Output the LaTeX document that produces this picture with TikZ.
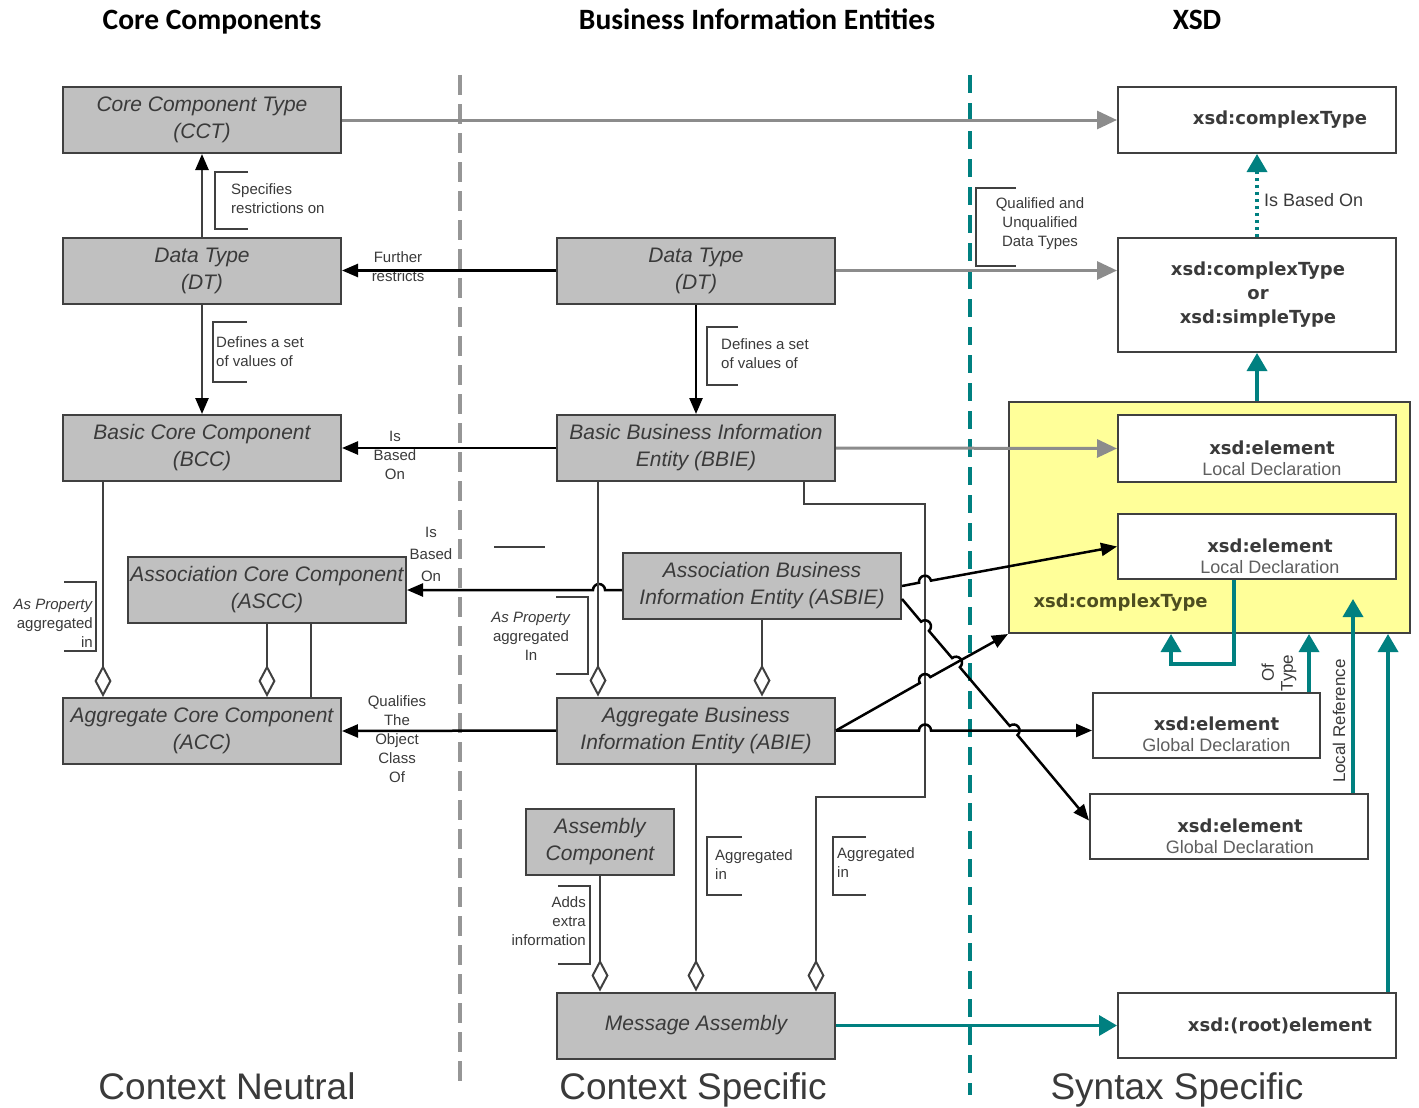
\documentclass[tikz,border=0pt]{standalone}
\usepackage{fontspec}
\setmainfont{Liberation Sans}
\newfontfamily\titlefont{Carlito}
\newfontfamily\xsdfont{DejaVu Sans}
\usepackage{tikz}
\usetikzlibrary{arrows.meta,calc,positioning}
\definecolor{boxgray}{RGB}{192,192,192}
\definecolor{edgegray}{RGB}{64,64,64}
\definecolor{txtgray}{RGB}{58,58,58}
\definecolor{declgray}{RGB}{95,95,95}
\definecolor{lightline}{RGB}{140,140,140}
\definecolor{sepline}{RGB}{150,150,150}
\definecolor{tealline}{RGB}{0,128,128}
\definecolor{paleyellow}{RGB}{255,255,153}
\definecolor{olivetxt}{RGB}{78,78,32}
\newcommand{\declfont}{\normalfont\fontsize{18}{21}\selectfont\color{declgray}}

\tikzset{
  coltitle/.style={font=\titlefont\bfseries\fontsize{29.5}{32}\selectfont, anchor=base},
  ctxlabel/.style={font=\fontsize{37}{40}\selectfont, text=txtgray, anchor=base},
  ccbox/.style={draw=edgegray, line width=2pt, fill=boxgray, minimum width=278pt, minimum height=66pt,
    inner sep=1pt, align=center, font=\fontsize{21}{27}\selectfont\itshape, text=txtgray},
  xsdbox/.style={draw=edgegray, line width=2pt, fill=white, minimum width=278pt, minimum height=66pt},
  xsdlbl/.style={font=\xsdfont\bfseries\fontsize{18}{24}\selectfont, text=txtgray, align=center},
  note/.style={font=\fontsize{15}{19}\selectfont, text=txtgray, inner sep=0pt},
  bracket/.style={draw=edgegray, line width=1.5pt},
  link/.style={draw=black, line width=2.5pt, -{Triangle[length=16pt,width=13pt,color=black]}},
  greylink/.style={draw=lightline, line width=3pt, -{Triangle[length=20pt,width=18pt]}},
  teallink/.style={draw=tealline, line width=3.5pt, -{Triangle[length=18pt,width=20pt]}},
  aggr/.style={draw=edgegray, line width=2pt, -{Diamond[length=32pt,width=17pt,fill=white]}},
}

\begin{document}
\begin{tikzpicture}[x=1pt, y=-1pt]
  \useasboundingbox (0,0) rectangle (1419,1108);
  \fill[white] (0,0) rectangle (1419,1108);

  % column titles and context labels
  \foreach \x/\txt in {212/Core Components, 757/Business Information Entities, 1197/XSD} {
      \node[coltitle] (title\x) at (\x,30) {\txt};
    }
  \foreach \x/\txt in {227/Context Neutral, 693/Context Specific, 1177/Syntax Specific} {
      \node[ctxlabel] (ctx\x) at (\x,1099) {\txt};
    }

  % separators
  \draw[sepline, line width=4.5pt, dash pattern=on 20pt off 9pt] (460,75) -- (460,1090);
  \draw[tealline, line width=4.5pt, dash pattern=on 18pt off 10pt] (970,75) -- (970,1095);

  % core components
  \node[ccbox] (cct) at (202,120) {Core Component Type\\(CCT)};
  \node[ccbox] (dtcc) at (202,270.5) {Data Type\\(DT)};
  \node[ccbox] (bcc) at (202,448) {Basic Core Component\\(BCC)};
  \node[ccbox] (ascc) at (267,590) {Association Core Component\\(ASCC)};
  \node[ccbox] (acc) at (202,731) {Aggregate Core Component\\(ACC)};

  % business information entities
  \node[ccbox] (dtbie) at (696,270.5) {Data Type\\(DT)};
  \node[ccbox] (bbie) at (696,448) {Basic Business Information\\Entity (BBIE)};
  \node[ccbox] (asbie) at (762,586) {Association Business\\Information Entity (ASBIE)};
  \node[ccbox] (abie) at (696,730.5) {Aggregate Business\\Information Entity (ABIE)};
  \node[ccbox, minimum width=148pt] (asmcomp) at (600,842) {Assembly\\Component};
  \node[ccbox] (msgasm) at (696,1025.5) {Message Assembly};

  % xsd side
  \node[xsdbox] (xct) at (1257,120) {};
  \node[xsdbox, minimum height=114pt] (xctst) at (1257,295) {};
  \node[draw=edgegray, line width=2pt, fill=paleyellow, minimum width=401pt, minimum height=231pt] (xcomplex) at (1209.5,517.5) {};
  \node[xsdbox, minimum height=67pt] (xloc1) at (1257,448.5) {};
  \node[xsdbox, minimum height=65pt] (xloc2) at (1257,546.5) {};
  \node[xsdbox, minimum width=227pt, minimum height=65pt] (xglob1) at (1206.5,725.5) {};
  \node[xsdbox, minimum height=65pt] (xglob2) at (1229,826.5) {};
  \node[xsdbox, minimum height=65pt] (xroot) at (1257,1025.5) {};

  \node[xsdlbl] (xct-t) at ($(xct)+(23,0)$) {xsd:complexType};
  \node[xsdlbl] (xctst-t) at (1258,295) {xsd:complexType\\or\\xsd:simpleType};
  \node[xsdlbl] (xloc1-t) at ($(xloc1)+(15,10)$) {xsd:element\\[-3pt]{\declfont Local Declaration}};
  \node[xsdlbl] (xloc2-t) at ($(xloc2)+(13,10)$) {xsd:element\\[-3pt]{\declfont Local Declaration}};
  \node[xsdlbl] (xglob1-t) at ($(xglob1)+(10,9)$) {xsd:element\\[-3pt]{\declfont Global Declaration}};
  \node[xsdlbl] (xglob2-t) at ($(xglob2)+(11,10)$) {xsd:element\\[-3pt]{\declfont Global Declaration}};
  \node[xsdlbl] (xroot-t) at ($(xroot)+(23,0)$) {xsd:(root)element};
  \node[xsdlbl, text=olivetxt, anchor=west] (xcomplex-t) at (1030,603) {xsd:complexType};

  % brackets next to the connectors
  \foreach \xa/\xb/\ya/\yb in {215/248/172/229, 213/247/322/382, 976/1016/188/266, 707/738/327/385,
      96/64/582/651, 588/556/597/674, 707/742/837/895, 833/866/837/895, 590/558/886/964} {
      \draw[bracket] (\xb,\ya) -| (\xa,\yb) -- (\xb,\yb);
    }
  \draw[edgegray, line width=2pt] (494,547) -- (545,547);

  % connector texts
  \node[note, anchor=west, align=left] (nspec) at (231,199) {Specifies\\ restrictions on};
  \node[note, anchor=west, align=left] (ndefcc) at (216,352) {Defines a set\\of values of};
  \node[note, align=center] (nfurther) at (398,267) {Further\\restricts};
  \node[note, align=center] (nbasedbcc) at (395,455) {Is\\Based\\On};
  \node[note, align=center, font=\fontsize{15}{22}\selectfont] (nbasedascc) at (431,554) {Is\\Based\\On};
  \node[note, anchor=east, align=right] (npropcc) at (93,623) {\textit{As Property}\\aggregated\\in};
  \node[note, align=center] (nqualifies) at (397,739) {Qualifies\\The\\Object\\Class\\Of};
  \node[note, align=center] (nqualified) at (1040,224) {Qualified and\\Unqualified\\Data Types};
  \node[note, anchor=west, align=left] (ndefbie) at (721,354) {Defines a set\\ of values of};
  \node[note, align=center] (npropbie) at (531,636) {\textit{As Property}\\aggregated\\In};
  \node[note, anchor=west, align=left] (naggr1) at (715,865) {Aggregated\\ in};
  \node[note, anchor=west, align=left] (naggr2) at (837,863) {Aggregated\\ in};
  \node[note, anchor=east, align=right] (nadds) at (586,921) {Adds\\extra\\information};
  \node[note, anchor=west, font=\fontsize{18}{21}\selectfont] (nbasedxsd) at (1264,200) {Is Based On};
  \node[note, align=center, rotate=90, font=\fontsize{17}{19}\selectfont] (noftype) at (1279,673) {Of\\Type};
  \node[note, rotate=90, font=\fontsize{17}{19}\selectfont] (nlocalref) at (1339,721) {Local Reference};

  % core component links
  \draw[link, draw=edgegray] (dtcc) -- (cct);
  \draw[link, draw=edgegray] (dtcc) -- (bcc);
  \draw[aggr] ($(bcc.south west)+(41,0)$) -- ($(acc.north west)+(41,0)$);
  \draw[aggr] (ascc.south) -- (ascc.south |- acc.north);
  \draw[edgegray, line width=2pt] ($(ascc.south west)+(184,0)$) -- ($(acc.north west)+(249,0)$);

  % links from the business side to the core side
  \draw[link] (dtbie.west) -- (dtcc.east);
  \draw[link] (bbie.west) -- (bcc.east);
  \draw[link] (asbie.west |- ascc.east) -- (605,590) arc[start angle=0, end angle=180, radius=6pt] -- (ascc.east);
  \draw[link] (abie.west) -- (acc.east);

  % business side
  \draw[link] (dtbie) -- (bbie);
  \draw[aggr] ($(bbie.south west)+(42,0)$) -- ($(abie.north west)+(42,0)$);
  \draw[aggr] (asbie.south) -- (asbie.south |- abie.north);
  \draw[aggr] ($(bbie.south east)+(-32,0)$) -- ++(0,22) -| (925,797) -| ($(msgasm.north east)+(-20,0)$);
  \draw[aggr] (abie.south) -- (msgasm.north);
  \draw[aggr] (asmcomp.south) -- (asmcomp.south |- msgasm.north);

  % to the xsd side
  \draw[greylink] (cct.east) -- (xct.west);
  \draw[greylink] (dtbie.east) -- (xctst.west |- dtbie.east);
  \draw[greylink] (bbie.east) -- (xloc1.west);
  \draw[link] (asbie.east) -- (919.1,582.7) arc[start angle=189.9, end angle=9.9, radius=6pt] -- (xloc2.west);
  \draw[link] ($(asbie.south east)+(0,-21)$) -- (921.1,621.7) arc[start angle=130.35, end angle=-49.65, radius=6pt]
    -- (952.1,658.1) arc[start angle=130.35, end angle=-49.65, radius=6pt]
    -- (1009.7,725.9) arc[start angle=130.35, end angle=-49.65, radius=6pt] -- ($(xglob2.west)+(0,-6)$);
  \draw[link] (abie.east) -- (919.8,683.0) arc[start angle=209.26, end angle=29.26, radius=6pt] -- (xcomplex.south west);
  \draw[link] (abie.east) -- (919,730.5) arc[start angle=180, end angle=0, radius=6pt] -- (xglob1.west |- abie.east);
  \draw[teallink] (msgasm.east) -- (xroot.west);

  % xsd links
  \draw[teallink, dash pattern=on 3pt off 4pt] (xctst.north) -- (xct.south);
  \draw[teallink] (xctst.south |- xcomplex.north) -- (xctst.south);
  \draw[teallink] ($(xloc2.south west)+(117,0)$) -- ++(0,84) -| ($(xcomplex.south west)+(163,0)$);
  \coordinate (oftype) at ($(xglob1.north east)+(-12,0)$);
  \coordinate (localref) at ($(xglob2.north east)+(-16,0)$);
  \coordinate (rootref) at ($(xroot.north east)+(-9,0)$);
  \draw[teallink] (oftype) -- (oftype |- xcomplex.south);
  \draw[teallink] (localref) -- ++(0,-194);
  \draw[teallink] (rootref) -- (rootref |- xcomplex.south);
\end{tikzpicture}
\end{document}
